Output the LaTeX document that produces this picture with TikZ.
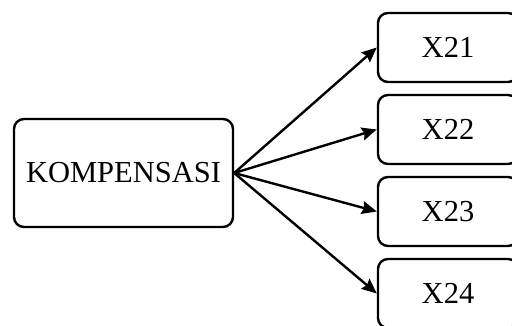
\documentclass[tikz,border=0pt]{standalone}
\usepackage{fontspec}
\setmainfont{Liberation Serif}
\usetikzlibrary{arrows.meta}
\begin{document}
\begin{tikzpicture}[x=1pt,y=-1pt,
  box/.style={draw, line width=2.4pt, rounded corners=10pt, inner sep=0pt,
    font=\fontsize{30.5}{36}\selectfont},
  mainbox/.style={box, minimum width=219pt, minimum height=108pt},
  itembox/.style={box, minimum width=140pt, minimum height=69pt},
  link/.style={line width=2.4pt, -{Stealth[length=15pt,width=13pt,inset=2pt]}}]
  \useasboundingbox (0,0) rectangle (512,326);
  \clip (0,0) rectangle (512,326);
  % central concept box
  \node[mainbox] (k) at (123.5,173) {KOMPENSASI};
  % indicator boxes, stacked on the right
  \node[itembox] (x21) at (448,47.5) {X21};
  \node[itembox] (x22) at (448,129.5) {X22};
  \node[itembox] (x23) at (448,211.5) {X23};
  \node[itembox] (x24) at (448,293.5) {X24};
  \foreach \t in {x21,x22,x23,x24}
    \draw[link] (k.east) -- (\t.west);
\end{tikzpicture}
\end{document}
